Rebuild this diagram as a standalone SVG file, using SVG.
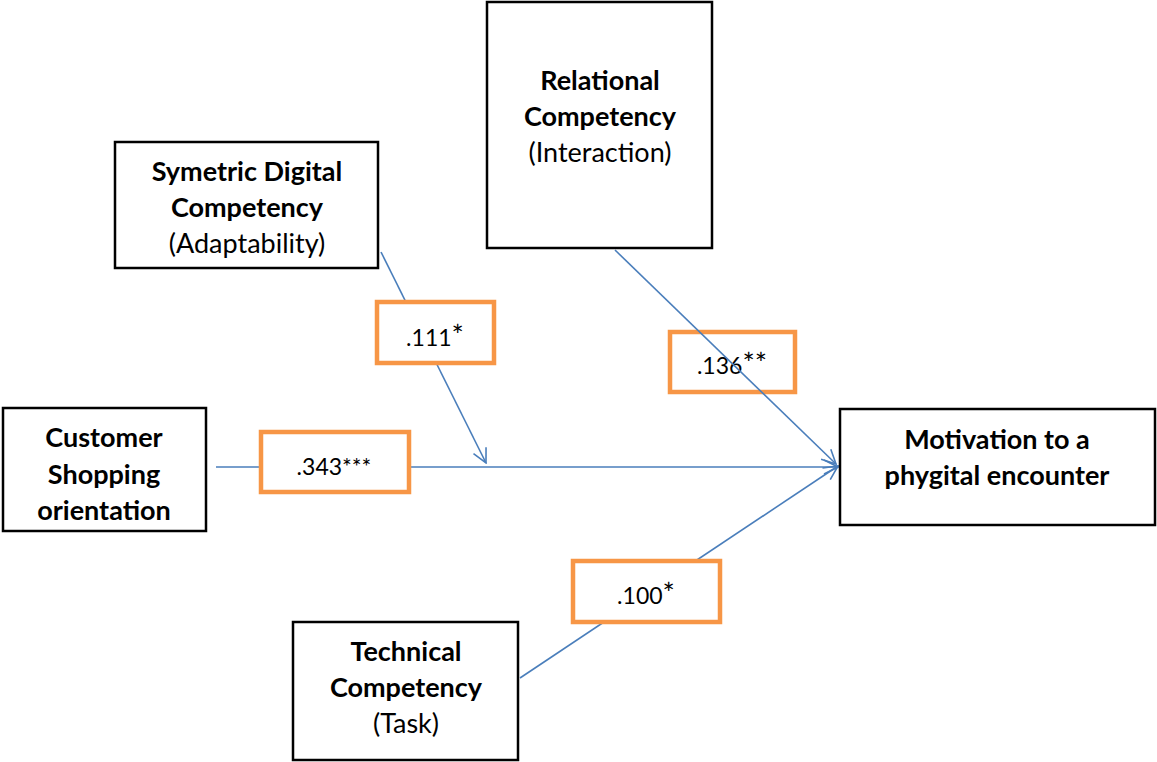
<svg xmlns="http://www.w3.org/2000/svg" width="1157" height="762" viewBox="0 0 1157 762">
  <style>
    .node { fill: #ffffff; stroke: #000000; stroke-width: 2.5; }
    .coef { fill: #ffffff; stroke: #F79646; stroke-width: 4.5; }
    .t { font-family: Lato, "Liberation Sans", sans-serif; font-size: 27px; fill: #000000; text-anchor: middle; }
    .b { font-weight: bold; }
    .n { font-family: Lato, "Liberation Sans", sans-serif; font-size: 23px; fill: #000000; text-anchor: middle; }
    .star { font-size: 29px; }
    .link { stroke: #4A7EBB; stroke-width: 1.6; fill: none; }
  </style>
  <defs>
    <marker id="arrow" viewBox="0 0 16 16" refX="15" refY="8" markerWidth="16" markerHeight="16" markerUnits="userSpaceOnUse" orient="auto">
      <path d="M1,1 L15,8 L1,15" fill="none" stroke="#4A7EBB" stroke-width="1.6"/>
    </marker>
  </defs>
  <rect width="1157" height="762" fill="#ffffff"/>

  <!-- this coefficient sits under its connector, which crosses it -->
  <g id="coef-interaction">
    <rect class="coef" x="670" y="332" width="125" height="60"/>
    <text class="n" x="732" y="374">.136<tspan class="star">**</tspan></text>
  </g>

  <!-- connectors -->
  <g id="connectors">
    <line class="link" x1="381" y1="252" x2="486" y2="463" marker-end="url(#arrow)"/>
    <line class="link" x1="216" y1="467" x2="838" y2="467" marker-end="url(#arrow)"/>
    <line class="link" x1="615" y1="250" x2="836" y2="464" marker-end="url(#arrow)"/>
    <line class="link" x1="520" y1="678" x2="838" y2="466" marker-end="url(#arrow)"/>
  </g>

  <!-- nodes -->
  <g id="symmetric-digital">
    <rect class="node" x="115" y="142" width="263" height="126"/>
    <text class="t b" x="247" y="181">Symetric Digital</text>
    <text class="t b" x="247" y="217">Competency</text>
    <text class="t" x="247" y="253">(Adaptability)</text>
  </g>
  <g id="relational">
    <rect class="node" x="487" y="2" width="225" height="246"/>
    <text class="t b" x="600" y="90">Relational</text>
    <text class="t b" x="600" y="126">Competency</text>
    <text class="t" x="600" y="162">(Interaction)</text>
  </g>
  <g id="customer">
    <rect class="node" x="3" y="408" width="203" height="123"/>
    <text class="t b" x="104" y="447">Customer</text>
    <text class="t b" x="104" y="484">Shopping</text>
    <text class="t b" x="104" y="520">orientation</text>
  </g>
  <g id="motivation">
    <rect class="node" x="840" y="409" width="315" height="116"/>
    <text class="t b" x="997" y="449">Motivation to a</text>
    <text class="t b" x="997" y="485">phygital encounter</text>
  </g>
  <g id="technical">
    <rect class="node" x="293" y="622" width="225" height="138"/>
    <text class="t b" x="406" y="661">Technical</text>
    <text class="t b" x="406" y="697">Competency</text>
    <text class="t" x="406" y="733">(Task)</text>
  </g>

  <!-- path coefficients -->
  <g id="coef-adaptability">
    <rect class="coef" x="377" y="302" width="117" height="61"/>
    <text class="n" x="435" y="346">.111<tspan class="star">*</tspan></text>
  </g>
  <g id="coef-shopping">
    <rect class="coef" x="261" y="432" width="148" height="60"/>
    <text class="n" x="334" y="475">.343***</text>
  </g>
  <g id="coef-task">
    <rect class="coef" x="573" y="561" width="147" height="61"/>
    <text class="n" x="646" y="604">.100<tspan class="star">*</tspan></text>
  </g>
</svg>
